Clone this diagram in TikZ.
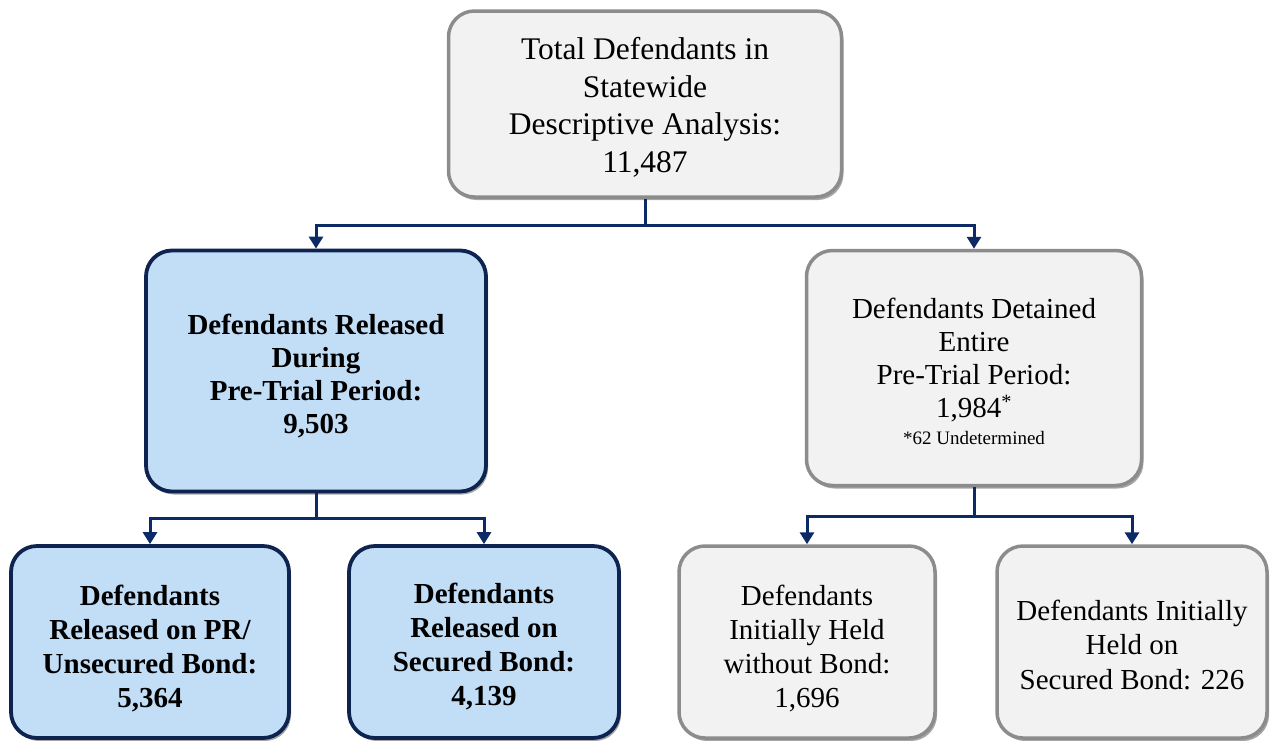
\documentclass[tikz,border=0pt]{standalone}
\usepackage{fontspec}
\setmainfont{Liberation Serif}
\usetikzlibrary{arrows.meta,shadows}
\definecolor{navy}{HTML}{0B2A66}
\definecolor{bluefill}{HTML}{C2DDF6}
\definecolor{blueedge}{HTML}{0E2350}
\definecolor{grayfill}{HTML}{F2F2F2}
\definecolor{grayedge}{HTML}{8C8C8C}
\newcommand\fsz[2]{\fontsize{#1}{#2}\selectfont}
\begin{document}
\begin{tikzpicture}[x=1pt,y=-1pt,
  boxbase/.style={rounded corners=26pt, inner sep=0pt,
    drop shadow={shadow xshift=2pt, shadow yshift=-3pt, opacity=0.35, fill=black}},
  graybox/.style={boxbase, fill=grayfill, draw=grayedge, line width=3.5pt},
  bluebox/.style={boxbase, fill=bluefill, draw=blueedge, line width=3.8pt},
  boxtext/.style={align=center, inner sep=0pt},
  link/.style={draw=navy, line width=3pt},
  arr/.style={link, -{Triangle[width=14pt,length=12pt]}}]
\useasboundingbox (0,0) rectangle (1270,740);
% top
\node[graybox, minimum width=393pt, minimum height=186pt] (top) at (645,104) {};
\node[boxtext, font=\fsz{31.5}{37.5}] (topT) at ([yshift=-3.5pt]top.center)
  {Total Defendants in\\Statewide\\Descriptive Analysis:\\11,487};
% middle
\node[bluebox, minimum width=340pt, minimum height=241pt] (mL) at (316,371) {};
\node[boxtext, font=\fsz{29}{33}\bfseries] (mLT) at ([yshift=-5pt]mL.center)
  {Defendants Released\\During\\Pre-Trial Period:\\9,503};
\node[graybox, minimum width=335pt, minimum height=235pt] (mR) at (974,368) {};
\node[boxtext, font=\fsz{29}{33}] (mRT) at ([yshift=-3pt]mR.center)
  {Defendants Detained\\Entire\\Pre-Trial Period:\\1,984\textsuperscript{*}\\[-6pt]{\fsz{19}{22}*62 Undetermined}};
% bottom
\node[bluebox, minimum width=278pt, minimum height=192pt] (b1) at (150,642) {};
\node[boxtext, font=\fsz{29}{34}\bfseries] (b1T) at ([yshift=-7pt]b1.center)
  {Defendants\\Released on PR/\\Unsecured Bond:\\5,364};
\node[bluebox, minimum width=270pt, minimum height=192pt] (b2) at (484,642) {};
\node[boxtext, font=\fsz{29}{34}\bfseries] (b2T) at ([yshift=-5pt]b2.center)
  {Defendants\\Released on\\Secured Bond:\\4,139};
\node[graybox, minimum width=256pt, minimum height=192pt] (b3) at (807,642) {};
\node[boxtext, font=\fsz{29}{34}] (b3T) at ([yshift=-7pt]b3.center)
  {Defendants\\Initially Held\\without Bond:\\1,696};
\node[graybox, minimum width=270pt, minimum height=192pt] (b4) at (1132,642) {};
\node[boxtext, font=\fsz{29}{34.5}] (b4T) at ([yshift=-2.5pt]b4.center)
  {Defendants Initially\\Held on\\Secured Bond: 226};
% connectors
\coordinate (j1) at (645,225);
\coordinate (j2) at (316,518);
\coordinate (j3) at (974,516);
\draw[link] (top.south) -- (j1);
\draw[arr] (j1) -| (mL.north);
\draw[arr] (j1) -| (mR.north);
\draw[link] (mL.south) -- (j2);
\draw[arr] (j2) -| (b1.north);
\draw[arr] (j2) -| (b2.north);
\draw[link] (mR.south) -- (j3);
\draw[arr] (j3) -| (b3.north);
\draw[arr] (j3) -| (b4.north);
\end{tikzpicture}
\end{document}
